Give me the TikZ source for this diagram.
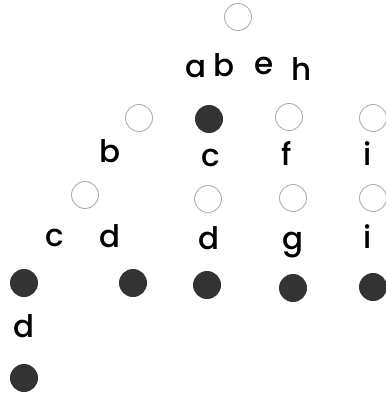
\documentclass[tikz,border=0pt]{standalone}
\usepackage{fontspec}
\setmainfont{Poppins Medium}
\begin{document}
\begin{tikzpicture}[x=1pt,y=-1pt,
  opennode/.style={circle,draw=black!35,line width=0.8pt,minimum size=27pt,inner sep=0pt},
  fullnode/.style={circle,fill=black!80,minimum size=28pt,inner sep=0pt},
  lbl/.style={anchor=base,inner sep=0pt,font=\fontsize{31}{31}\selectfont}]
\useasboundingbox (0,0) rectangle (385,395);
% circles
\node[opennode] (root) at (238,17) {};
\node[opennode] (n1) at (139,118) {};
\node[fullnode] (n2) at (209,119) {};
\node[opennode] (n3) at (289,117) {};
\node[opennode] (n4) at (373,118) {};
\node[opennode] (n5) at (85,195) {};
\node[opennode] (n6) at (208,199) {};
\node[opennode] (n7) at (293,198) {};
\node[opennode] (n8) at (373,198) {};
\node[fullnode] (n9) at (24,283) {};
\node[fullnode] (n10) at (133,283) {};
\node[fullnode] (n11) at (207,285) {};
\node[fullnode] (n12) at (293,288) {};
\node[fullnode] (n13) at (373,287) {};
\node[fullnode] (n14) at (24,378) {};
% labels
\node[lbl] (la) at (196,78) {a};
\node[lbl] (lb) at (224,77) {b};
\node[lbl] (le) at (264,75) {e};
\node[lbl] (lh) at (302,81) {h};
\node[lbl] (lb2) at (110,163) {b};
\node[lbl] (lc) at (211,167) {c};
\node[lbl] (lf) at (287,165) {f};
\node[lbl] (li) at (368,165) {i};
\node[lbl] (lc2) at (55,246) {c};
\node[lbl] (ld) at (110,247) {d};
\node[lbl] (ld2) at (209,249) {d};
\node[lbl] (lg) at (293,249) {g};
\node[lbl] (li2) at (368,248) {i};
\node[lbl] (ld3) at (24,337) {d};
\end{tikzpicture}
\end{document}
